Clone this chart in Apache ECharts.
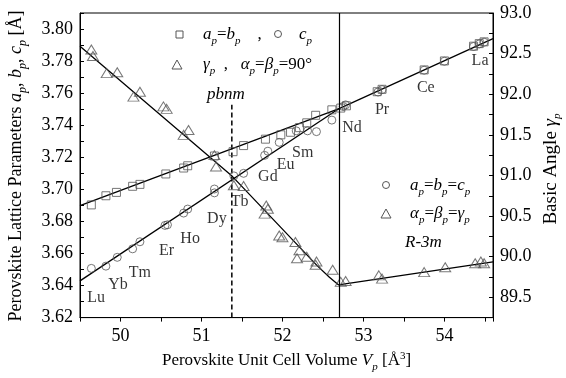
<!DOCTYPE html>
<html>
<head>
<meta charset="utf-8">
<script src="https://cdn.jsdelivr.net/npm/echarts@6/dist/echarts.min.js"></script>
<style>
  html, body { margin: 0; padding: 0; background: #fff; }
  #main { width: 566px; height: 378px; }
</style>
</head>
<body>
<div id="main"></div>
<script>
// a_p = b_p (squares), left axis
var sqV = [49.64, 49.82, 49.95, 50.15, 50.24, 50.56, 50.78, 50.83, 51.16, 51.39, 51.52, 51.79, 51.98, 52.10, 52.21, 52.30, 52.41, 52.61,
  52.72, 52.79, 53.17, 53.23, 53.75, 54.00, 54.36, 54.43, 54.49]
var sqA = [3.6903, 3.6960, 3.6981, 3.7019, 3.7031, 3.7096, 3.7133, 3.7147, 3.7208, 3.7235, 3.7273, 3.7313, 3.7340, 3.7356, 3.7385, 3.7415, 3.7462, 3.7496,
  3.7507, 3.7521, 3.7609, 3.7624, 3.7745, 3.7801, 3.7893, 3.7909, 3.7920]
// c_p (circles), left axis
var ciV = [49.64, 49.82, 49.96, 50.15, 50.24, 50.55, 50.58, 50.78, 50.83, 51.16, 51.16, 51.40, 51.52, 51.78, 51.82, 51.96, 52.17, 52.31, 52.42, 52.61,
  52.75, 52.78, 53.18, 53.23, 53.75, 54.00, 54.36, 54.43, 54.49]
var ciC = [3.6507, 3.6521, 3.6576, 3.6629, 3.6673, 3.6775, 3.6779, 3.6852, 3.6877, 3.6978, 3.7002, 3.7084, 3.7100, 3.7212, 3.7238, 3.7293, 3.7365, 3.7365, 3.7360, 3.7432,
  3.7517, 3.7527, 3.7607, 3.7622, 3.7743, 3.7799, 3.7891, 3.7907, 3.7918]
// gamma_p (triangles), right axis
var trV = [49.64, 49.66, 49.83, 49.96, 50.16, 50.24, 50.53, 50.57, 50.78, 50.84, 51.16, 51.18, 51.40, 51.52, 51.80, 51.82, 51.78, 51.96, 52.00, 52.16, 52.21, 52.18, 52.30, 52.42, 52.41, 52.62,
  52.72, 52.78, 53.19, 53.23, 53.75, 54.01, 54.38, 54.45, 54.49]
var trG = [92.55, 92.47, 92.26, 92.27, 91.97, 92.03, 91.85, 91.82, 91.50, 91.56, 91.25, 91.11, 90.88, 90.87, 90.63, 90.59, 90.53, 90.26, 90.24, 90.18, 90.08, 89.98, 90.00, 89.94, 89.90, 89.84,
  89.69, 89.70, 89.77, 89.73, 89.81, 89.87, 89.92, 89.94, 89.92]

// fitted lines
var fitAB = [[49.5, 3.6898], [52.70, 3.7504]]
var fitC = [[49.5, 3.6429], [52.70, 3.7504]]
var fitR = [[52.70, 3.7504], [54.6, 3.794]]
var fitG = [[49.5, 92.59], [51.384, 90.986], [52.431, 89.887], [52.58, 89.747], [52.69, 89.654], [54.6, 89.936]]

var pbnmEdge = 51.375
var pbnmTop = 3.7527
var ndEdge = 52.70

// element names and where they sit (left axis units)
var elNames = ['Lu', 'Yb', 'Tm', 'Er', 'Ho', 'Dy', 'Tb', 'Gd', 'Eu', 'Sm', 'Nd', 'Pr', 'Ce', 'La']
var elV = [49.70, 49.97, 50.24, 50.57, 50.86, 51.19, 51.47, 51.82, 52.04, 52.25, 52.86, 53.23, 53.77, 54.44]
var elA = [3.6324, 3.6403, 3.6482, 3.6617, 3.6690, 3.6818, 3.6922, 3.7080, 3.7153, 3.7227, 3.7385, 3.7495, 3.7635, 3.7800]

var serif = 'Liberation Serif'
var mk = '#555'

function zip(a, b) {
  return a.map(function (v, i) { return [v, b[i]] })
}

var rich = {
  n: { fontFamily: serif, fontSize: 17, color: '#000' },
  i: { fontFamily: serif, fontSize: 17, fontStyle: 'italic', color: '#000' },
  s: { fontFamily: serif, fontSize: 11, fontStyle: 'italic', color: '#000', padding: [13, 0, 0, 0] },
  sup: { fontFamily: serif, fontSize: 11, color: '#000', padding: [0, 0, 10, 0] }
}
var richBig = {
  n: { fontFamily: serif, fontSize: 18, color: '#000' },
  i: { fontFamily: serif, fontSize: 18, fontStyle: 'italic', color: '#000' },
  s: { fontFamily: serif, fontSize: 12, fontStyle: 'italic', color: '#000', padding: [13, 0, 0, 0] }
}

function txt(x, y, t, extra) {
  var o = {
    type: 'text', x: x, y: y,
    style: { text: t, rich: rich, fontFamily: serif, fontSize: 17, fill: '#000', align: 'left', verticalAlign: 'middle' }
  }
  if (extra) Object.assign(o, extra)
  return o
}

var chart = echarts.init(document.getElementById('main'))

var option = {
  animation: false,
  backgroundColor: '#fff',
  grid: { left: 80, right: 73, top: 13, bottom: 54, show: true, borderColor: '#000', borderWidth: 1, backgroundColor: 'transparent' },
  xAxis: {
    type: 'value', min: 49.5, max: 54.6, interval: 0.5,
    name: 'Perovskite Unit Cell Volume {i|V}{s|p} [Å{sup|3}]',
    nameLocation: 'middle', nameGap: 30,
    nameTextStyle: { fontFamily: serif, fontSize: 17, color: '#000', rich: rich },
    axisLine: { onZero: false, lineStyle: { color: '#000', width: 1 } },
    axisTick: { inside: false, length: 4, lineStyle: { color: '#000' } },
    splitLine: { show: false },
    axisLabel: {
      fontFamily: serif, fontSize: 18, color: '#000', margin: 10,
      formatter: function (v) { return Math.abs(v - Math.round(v)) < 1e-6 ? String(Math.round(v)) : '' }
    }
  },
  yAxis: [{
    type: 'value', min: 3.62, max: 3.81, interval: 0.01,
    axisLine: { show: true, lineStyle: { color: '#000', width: 1 } },
    axisTick: { inside: true, length: 4, lineStyle: { color: '#000' } },
    splitLine: { show: false },
    axisLabel: {
      fontFamily: serif, fontSize: 18, color: '#000', margin: 7,
      formatter: function (v) { var k = Math.round(v * 100); return k % 2 === 0 ? v.toFixed(2) : '' }
    }
  }, {
    type: 'value', position: 'right', min: 89.25, max: 93.0, interval: 0.25,
    axisLine: { show: true, lineStyle: { color: '#000', width: 1 } },
    axisTick: { inside: true, length: 4, lineStyle: { color: '#000' } },
    splitLine: { show: false },
    axisLabel: {
      fontFamily: serif, fontSize: 18, color: '#000', margin: 7,
      formatter: function (v) { return Math.abs(v * 2 - Math.round(v * 2)) < 1e-6 ? v.toFixed(1) : '' }
    }
  }],
  series: [
    {
      type: 'line', data: fitAB, showSymbol: false, symbol: 'none', lineStyle: { color: '#000', width: 1.3 }, z: 3,
      markLine: {
        silent: true, symbol: 'none', label: { show: false },
        lineStyle: { color: '#000', width: 1.2, type: 'solid' },
        data: [{ xAxis: ndEdge }]
      }
    },
    { type: 'line', data: fitC, symbol: 'none', lineStyle: { color: '#000', width: 1.3 }, z: 3 },
    { type: 'line', data: fitR, symbol: 'none', lineStyle: { color: '#000', width: 1.3 }, z: 3 },
    { type: 'line', yAxisIndex: 1, data: fitG, symbol: 'none', lineStyle: { color: '#000', width: 1.3 }, z: 3 },
    { type: 'line', data: [[pbnmEdge, 3.62], [pbnmEdge, pbnmTop]], symbol: 'none', lineStyle: { color: '#000', width: 1.5, type: [5, 3] }, z: 3 },
    {
      type: 'scatter', data: zip(sqV, sqA), symbol: 'rect', symbolSize: 8,
      itemStyle: { color: 'rgba(0,0,0,0)', borderColor: mk, borderWidth: 1 }, z: 4
    },
    {
      type: 'scatter', data: zip(ciV, ciC), symbol: 'circle', symbolSize: 8,
      itemStyle: { color: 'rgba(0,0,0,0)', borderColor: mk, borderWidth: 1 }, z: 4
    },
    {
      type: 'scatter', yAxisIndex: 1, data: zip(trV, trG), symbol: 'triangle', symbolSize: [11, 9],
      itemStyle: { color: 'rgba(0,0,0,0)', borderColor: mk, borderWidth: 1 }, z: 4
    },
    {
      type: 'scatter', symbolSize: 0, silent: true,
      data: elV.map(function (v, i) { return { value: [v, elA[i]], name: elNames[i] } }),
      label: { show: true, position: 'inside', formatter: '{b}', fontFamily: serif, fontSize: 16, color: '#000' }
    }
  ],
  graphic: [
    // left axis title
    {
      type: 'text', x: 16, y: 166, rotation: Math.PI / 2,
      style: {
        text: 'Perovskite Lattice Parameters {i|a}{s|p}{n|, }{i|b}{s|p}{n|, }{i|c}{s|p}{n| [Å]}',
        rich: richBig, fontFamily: serif, fontSize: 18, fill: '#000', align: 'center', verticalAlign: 'middle'
      }
    },
    // right axis title
    {
      type: 'text', x: 551, y: 169, rotation: Math.PI / 2,
      style: {
        text: 'Basic Angle {i|γ}{s|p}',
        rich: { n: rich.n, i: { fontFamily: serif, fontSize: 19, fontStyle: 'italic', color: '#000' }, s: rich.s },
        fontFamily: serif, fontSize: 19, fill: '#000', align: 'center', verticalAlign: 'middle'
      }
    },
    // Pbnm legend
    { type: 'rect', shape: { x: 176, y: 31, width: 7, height: 7 }, style: { fill: 'none', stroke: mk, lineWidth: 1 } },
    txt(203, 35, '{i|a}{s|p}{n|=}{i|b}{s|p}{n|    ,}'),
    { type: 'circle', shape: { cx: 278, cy: 34, r: 3.5 }, style: { fill: 'none', stroke: mk, lineWidth: 1 } },
    txt(299, 35, '{i|c}{s|p}'),
    { type: 'polygon', shape: { points: [[177, 60], [182, 69], [172, 69]] }, style: { fill: 'none', stroke: mk, lineWidth: 1 } },
    txt(203, 65, '{i|γ}{s|p}{n|  ,   }{i|α}{s|p}{n|=}{i|β}{s|p}{n|=90°}'),
    txt(207, 95, '{i|pbnm}'),
    // R-3m legend
    { type: 'circle', shape: { cx: 386, cy: 185, r: 3.5 }, style: { fill: 'none', stroke: mk, lineWidth: 1 } },
    txt(410, 186, '{i|a}{s|p}{n|=}{i|b}{s|p}{n|=}{i|c}{s|p}'),
    { type: 'polygon', shape: { points: [[386, 209], [391, 218], [381, 218]] }, style: { fill: 'none', stroke: mk, lineWidth: 1 } },
    txt(410, 214, '{i|α}{s|p}{n|=}{i|β}{s|p}{n|=}{i|γ}{s|p}'),
    txt(405, 243, '{i|R-3m}')
  ]
}

chart.setOption(option)
window.addEventListener('resize', function () {
  chart.resize()
})
</script>
</body>
</html>
